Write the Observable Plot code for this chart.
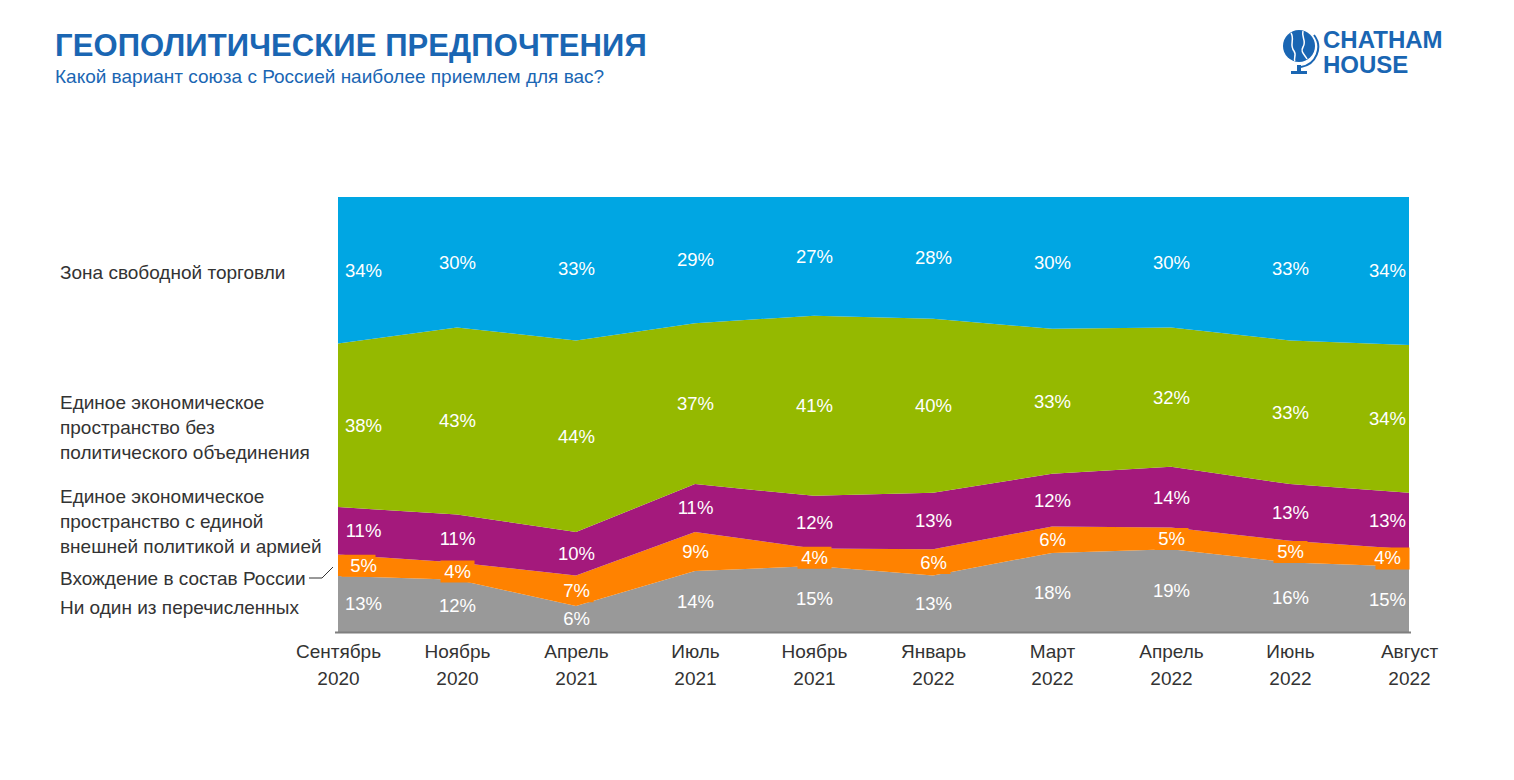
<!DOCTYPE html>
<html>
<head>
<meta charset="utf-8">
<script src="https://cdn.jsdelivr.net/npm/d3@7"></script>
<script src="https://cdn.jsdelivr.net/npm/@observablehq/plot@0.6"></script>
<style>
  body { margin: 0; background: #fff; font-family: "Liberation Sans", Arial, sans-serif; }
  #page { position: relative; width: 1514px; height: 780px; }
  #header { position: relative; height: 100px; }
  #title { position: absolute; left: 55px; top: 28px; font-size: 31px; font-weight: bold; color: #1a66b3; letter-spacing: 0.1px; }
  #subtitle { position: absolute; left: 55px; top: 66px; font-size: 19px; color: #1a66b3; }
  #logo { position: absolute; left: 1281px; top: 27px; width: 180px; height: 52px; }
  #logotext { position: absolute; left: 42px; top: 0px; font-size: 24px; font-weight: bold; color: #1a66b3; line-height: 25px; letter-spacing: 0px; }
  #chart { position: relative; }
  .lbl { position: absolute; left: 60px; font-size: 19px; color: #333; line-height: 25px; white-space: nowrap; }
  #leader { position: absolute; left: 0; top: 0; pointer-events: none; }
</style>
</head>
<body>
<div id="page">
  <div id="header">
    <div id="title">ГЕОПОЛИТИЧЕСКИЕ ПРЕДПОЧТЕНИЯ</div>
    <div id="subtitle">Какой вариант союза с Россией наиболее приемлем для вас?</div>
    <div id="logo">
      <svg width="40" height="52" style="position:absolute;left:0;top:0">
        <circle cx="18" cy="19" r="16" fill="#1a66b3"/>
        <path d="M10 6 C14 12, 8 18, 13 24 C16 28, 12 32, 14 34" stroke="#fff" stroke-width="1.5" fill="none"/>
        <path d="M22 4 C20 10, 26 14, 22 20 C19 25, 24 28, 26 32" stroke="#fff" stroke-width="1.5" fill="none"/>
        <path d="M33 8 A20 20 0 0 1 20 40" stroke="#1a66b3" stroke-width="2" fill="none"/>
        <rect x="16" y="38" width="4" height="6" fill="#1a66b3"/>
        <rect x="10" y="44" width="16" height="3" fill="#1a66b3"/>
      </svg>
      <div id="logotext">CHATHAM<br>HOUSE</div>
    </div>
  </div>
  <div id="chart"></div>
</div>
<script>
const dates = ["Сентябрь\n2020","Ноябрь\n2020","Апрель\n2021","Июль\n2021","Ноябрь\n2021","Январь\n2022","Март\n2022","Апрель\n2022","Июнь\n2022","Август\n2022"];
// bottom to top
const series = [
  "Ни один из перечисленных",
  "Вхождение в состав России",
  "Единое экономическое пространство с единой внешней политикой и армией",
  "Единое экономическое пространство без политического объединения",
  "Зона свободной торговли"
];
const noneValues    = [13, 12, 6, 14, 15, 13, 18, 19, 16, 15];
const joinValues    = [5, 4, 7, 9, 4, 6, 6, 5, 5, 4];
const unionValues   = [11, 11, 10, 11, 12, 13, 12, 14, 13, 13];
const economicValues= [38, 43, 44, 37, 41, 40, 33, 32, 33, 34];
const freeTradeValues=[34, 30, 33, 29, 27, 28, 30, 30, 33, 34];
const colors = ["#999999", "#ff8200", "#a4197c", "#95b900", "#00a6e3"];

const valuesBySeries = [noneValues, joinValues, unionValues, economicValues, freeTradeValues];
const data = [];
series.forEach((s, i) => dates.forEach((d, j) => data.push({series: s, date: d, value: valuesBySeries[i][j], idx: j})));

const last = dates.length - 1;
const orangeName = series[1];
const stackOpts = {x: "date", y: "value", z: "series", order: series, offset: "normalize"};

const boxSymbol = { draw(ctx) { ctx.rect(-17, -11, 34, 22); } };

function labels(pick, dx) {
  return [
    Plot.dot(data, Plot.stackY({...stackOpts, symbol: boxSymbol, fill: colors[1],
      r: d => (d.series === orangeName && pick(d)) ? 5 : 0, dx: dx === 0 ? 0 : dx - Math.sign(dx) * 5})),
    Plot.text(data, Plot.stackY({...stackOpts, text: d => pick(d) ? d.value + "%" : "",
      fill: "white", fontSize: 18.5, dx}))
  ];
}

const plot = Plot.plot({
  width: 1514,
  height: 610,
  marginTop: 97,
  marginBottom: 78,
  marginLeft: 335,
  marginRight: 103,
  style: {fontFamily: "Liberation Sans, Arial, sans-serif", fontSize: "18px", color: "#333", background: "transparent"},
  x: {domain: dates, type: "point", padding: 0, label: null},
  y: {domain: [0, 1], axis: null},
  color: {domain: series, range: colors},
  marks: [
    Plot.areaY(data, {...stackOpts, fill: "series"}),
    Plot.ruleY([0], {stroke: "#7f7f7f", strokeWidth: 2}),
    ...labels(d => d.idx > 0 && d.idx < last, 0),
    ...labels(d => d.idx === 0, 25),
    ...labels(d => d.idx === last, -22),
    Plot.axisX({tickSize: 0, tickPadding: 7, fontSize: 19, lineHeight: 1.4, tickFormat: d => d, label: null})
  ]
});
const chart = document.getElementById("chart");
chart.appendChild(plot);

// Left-side series labels (HTML annotations)
const leftLabels = [
  {text: "Зона свободной торговли", top: 160},
  {text: "Единое экономическое<br>пространство без<br>политического объединения", top: 290},
  {text: "Единое экономическое<br>пространство с единой<br>внешней политикой и армией", top: 384},
  {text: "Вхождение в состав России", top: 466},
  {text: "Ни один из перечисленных", top: 495}
];
leftLabels.forEach(l => {
  const div = document.createElement("div");
  div.className = "lbl";
  div.style.top = l.top + "px";
  div.innerHTML = l.text;
  chart.appendChild(div);
});
const ns = "http://www.w3.org/2000/svg";
const leader = document.createElementNS(ns, "svg");
leader.setAttribute("id", "leader");
leader.setAttribute("width", 400);
leader.setAttribute("height", 600);
const pl = document.createElementNS(ns, "polyline");
pl.setAttribute("points", "309,478 322,478 333,467");
pl.setAttribute("fill", "none");
pl.setAttribute("stroke", "#333");
pl.setAttribute("stroke-width", "1");
leader.appendChild(pl);
chart.appendChild(leader);
</script>
</body>
</html>
